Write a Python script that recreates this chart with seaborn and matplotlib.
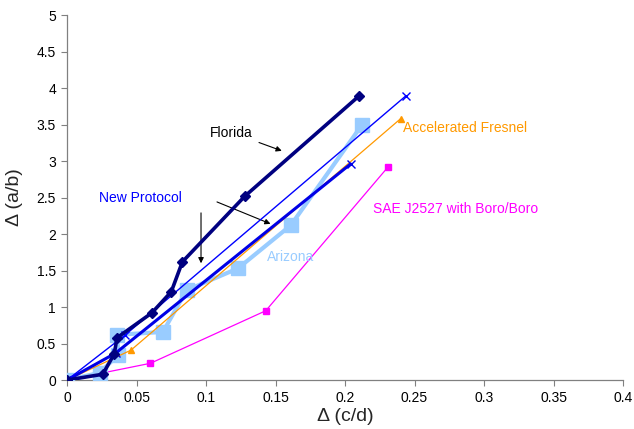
import matplotlib
matplotlib.use("Agg")
import matplotlib.pyplot as plt
import seaborn as sns
import pandas as pd

# Data
florida_x = [0.0, 0.0257, 0.034, 0.036, 0.061, 0.075, 0.083, 0.128, 0.210]
florida_y = [0.0, 0.08, 0.36, 0.58, 0.92, 1.21, 1.62, 2.52, 3.89]

newprot1_x = [0.0, 0.042, 0.2436]
newprot1_y = [0.0, 0.62, 3.89]

newprot2_x = [0.0, 0.035, 0.204]
newprot2_y = [0.0, 0.37, 2.96]

fresnel_x = [0.0, 0.046, 0.240]
fresnel_y = [0.0, 0.41, 3.58]

arizona_x = [0.0, 0.0236, 0.037, 0.036, 0.069, 0.086, 0.123, 0.161, 0.212]
arizona_y = [0.0, 0.10, 0.35, 0.62, 0.66, 1.23, 1.53, 2.12, 3.49]

sae_x = [0.0, 0.060, 0.143, 0.231]
sae_y = [0.0, 0.23, 0.95, 2.92]

x_ticks = [0, 0.05, 0.1, 0.15, 0.2, 0.25, 0.3, 0.35, 0.4]
x_ticklabels = ["0", "0.05", "0.1", "0.15", "0.2", "0.25", "0.3", "0.35", "0.4"]
y_ticks = [0, 0.5, 1, 1.5, 2, 2.5, 3, 3.5, 4, 4.5, 5]
y_ticklabels = ["0", "0.5", "1", "1.5", "2", "2.5", "3", "3.5", "4", "4.5", "5"]

sns.set_theme(style="white")
plt.rcParams['font.family'] = ['Liberation Sans', 'DejaVu Sans']

fig = plt.figure(figsize=(6.34, 4.29), dpi=100)
ax = fig.add_axes([0.1057, 0.114, 0.877, 0.851])

def draw(xs, ys, color, lw, marker, ms, z, mec=None, mew=1.0):
    df = pd.DataFrame({"x": xs, "y": ys})
    sns.lineplot(data=df, x="x", y="y", sort=False, estimator=None, ax=ax,
                 color=color, linewidth=lw, marker=marker, markersize=ms,
                 markeredgecolor=mec if mec else color, markeredgewidth=mew,
                 zorder=z)

draw(sae_x, sae_y, "#FF00FF", 0.9, "s", 4.5, 2)
draw(arizona_x, arizona_y, "#99CCFF", 3.0, "s", 10, 3)
draw(fresnel_x, fresnel_y, "#FF9900", 0.9, "^", 5, 4)
draw(newprot2_x, newprot2_y, "#0000E6", 2.2, "x", 6, 5)
draw(newprot1_x, newprot1_y, "#0000FF", 1.0, "x", 6, 5)
draw(florida_x, florida_y, "#000080", 2.6, "D", 5, 6)

ax.set_xlim(0, 0.4)
ax.set_ylim(0, 5)
ax.set_xticks(x_ticks)
ax.set_xticklabels(x_ticklabels)
ax.set_yticks(y_ticks)
ax.set_yticklabels(y_ticklabels)
ax.tick_params(axis="both", which="both", direction="out", length=4, width=0.8,
               color="#808080", labelsize=10, labelcolor="#000000",
               bottom=True, left=True, pad=4)
for side in ["top", "right"]:
    ax.spines[side].set_visible(False)
for side in ["left", "bottom"]:
    ax.spines[side].set_color("#808080")
    ax.spines[side].set_linewidth(0.9)

ax.set_xlabel("Δ (c/d)", fontsize=14, labelpad=2)
ax.set_ylabel("Δ (a/b)", fontsize=14, labelpad=10)

# annotations
ax.annotate("Florida", xy=(0.1545, 3.14), xytext=(0.1185, 3.39),
            fontsize=10, color="black", ha="center", va="center",
            arrowprops=dict(arrowstyle="-|>", color="black", lw=0.8,
                            mutation_scale=8, shrinkA=2, shrinkB=0))
ax.text(0.0526, 2.5, "New Protocol", fontsize=10, color="#0000FF",
        ha="center", va="center")
ax.annotate("", xy=(0.0964, 1.6), xytext=(0.0964, 2.29),
            arrowprops=dict(arrowstyle="-|>", color="black", lw=0.8,
                            mutation_scale=8, shrinkA=0, shrinkB=0))
ax.annotate("", xy=(0.1464, 2.14), xytext=(0.1079, 2.44),
            arrowprops=dict(arrowstyle="-|>", color="black", lw=0.8,
                            mutation_scale=8, shrinkA=0, shrinkB=0))
ax.text(0.2414, 3.45, "Accelerated Fresnel", fontsize=10, color="#FF9900",
        ha="left", va="center")
ax.text(0.2200, 2.34, "SAE J2527 with Boro/Boro", fontsize=10, color="#FF00FF",
        ha="left", va="center")
ax.text(0.1436, 1.68, "Arizona", fontsize=10, color="#99CCFF",
        ha="left", va="center")

fig.savefig("out.png", dpi=100)
